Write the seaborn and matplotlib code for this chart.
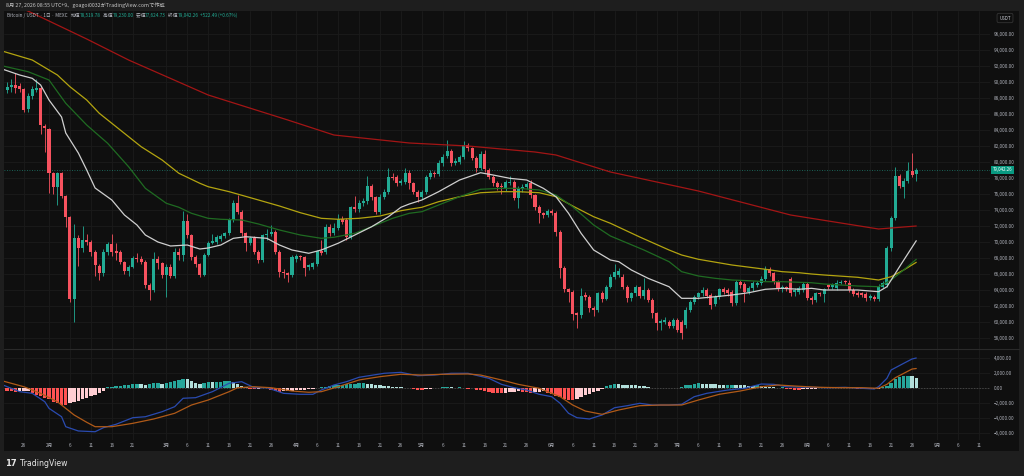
import numpy as np
import pandas as pd
import matplotlib
matplotlib.use("Agg")
import matplotlib.pyplot as plt
import matplotlib.dates as mdates
from matplotlib.patches import Rectangle
from matplotlib.lines import Line2D
from matplotlib.offsetbox import TextArea, HPacker, AnchoredOffsetbox
import seaborn as sns

# BTC/USDT daily candles, first candle 2026-01-22
start = "2026-01-22"

opens = [
    89000, 89330, 89620, 89500, 89080, 86580, 88250, 89000, 89200, 84540,
    84125, 78670, 76920, 78670, 75750, 73170, 62920, 70460, 69210, 70250,
    70040, 68790, 67000, 66165, 68790, 69750, 68870, 68790, 67460, 66420,
    66920, 67960, 67900, 67540, 64620, 64000, 67870, 67330, 65870, 66920,
    65750, 68790, 68375, 72625, 70875, 68170, 67250, 65875, 68375, 69915,
    70040, 70330, 70750, 71080, 72750, 74830, 73790, 71080, 69920, 70460,
    68790, 67750, 70875, 71000, 71290, 68790, 66290, 66080, 65875, 67900,
    68250, 68080, 66830, 66920, 67250, 68920, 68790, 71920, 71080, 71710,
    72830, 72700, 70670, 74330, 74080, 74830, 75120, 77000, 75580, 73790,
    75670, 76290, 78080, 78170, 77330, 77540, 78580, 77330, 76290, 75670,
    76290, 78170, 78670, 78500, 79830, 80750, 81420, 79920, 80040, 80580,
    82125, 81710, 80460, 79210, 81000, 79000, 78170, 77420, 77000, 76710,
    77330, 77540, 75460, 76580, 76830, 77330, 75875, 74420, 73580, 73375,
    73875, 73670, 71290, 66710, 64080, 63790, 61170, 60875, 63375, 63170,
    61710, 61500, 63580, 62900, 64420, 65670, 65900, 65670, 64420, 62960,
    63580, 64330, 63250, 64000, 62750, 61080, 59920, 60040, 60040, 59500,
    60250, 60040, 59620, 61500, 62540, 63170, 63580, 64000, 63370, 62250,
    63170, 64080, 64000, 63790, 62330, 65040, 64750, 63790, 64200, 64620,
    64830, 65330, 66580, 66080, 65040, 64080, 64330, 65330, 63790, 63790,
    64000, 64750, 62960, 62750, 63580, 63500, 64620, 64330, 64200, 64920,
    65040, 64920, 64000, 63670, 63580, 63500, 62960, 63170, 62870, 64420,
    64620, 69210, 72960, 78250, 76920, 77670, 78920, 78519.78,
]
highs = [
    90000, 90400, 91080, 89900, 89300, 88600, 89500, 90330, 89500, 84700,
    84300, 78800, 78800, 78800, 75900, 73300, 72300, 70900, 72000, 71000,
    70300, 69000, 67300, 69100, 70000, 71000, 69900, 69000, 67600, 67100,
    68200, 68600, 68200, 67700, 64900, 68800, 68300, 67500, 67200, 67200,
    69300, 69200, 73900, 73500, 71000, 68400, 67400, 68600, 70100, 71000,
    70900, 71000, 71300, 73000, 75200, 75870, 74000, 71300, 70700, 70700,
    69000, 71000, 71600, 72100, 71500, 69000, 66600, 66290, 68400, 68500,
    68400, 68200, 67300, 67500, 69000, 70200, 72200, 72300, 72400, 73500,
    73200, 73000, 74500, 75800, 75200, 75500, 78300, 77300, 75800, 76000,
    76600, 79300, 78600, 78400, 77900, 79200, 79000, 77500, 76500, 76500,
    78400, 79000, 78900, 80200, 81000, 82750, 81600, 80500, 80900, 82600,
    82400, 81900, 80700, 81400, 81500, 79200, 78400, 77600, 77400, 77800,
    78300, 77700, 77000, 77200, 77500, 77700, 76000, 74600, 73800, 74100,
    74100, 73900, 71500, 67000, 64300, 64000, 61300, 64200, 63700, 63400,
    62000, 63800, 63900, 64600, 66000, 67300, 66700, 66000, 64600, 63800,
    64600, 64500, 65500, 64200, 63000, 61300, 60400, 60600, 60300, 60500,
    60500, 60300, 61900, 62800, 63400, 63800, 64400, 64300, 63600, 63400,
    64300, 64400, 64200, 64000, 65300, 65300, 65000, 64500, 65100, 65100,
    65700, 67000, 66900, 66300, 65300, 64600, 64500, 65600, 64300, 64500,
    65000, 65000, 63200, 63800, 63800, 64300, 64800, 64900, 65200, 65300,
    65300, 65200, 64200, 63900, 63800, 63700, 63500, 63400, 64700, 65100,
    69500, 73200, 79400, 78500, 78000, 80000, 81080, 79230.00,
]
lows = [
    88600, 88700, 88580, 88800, 86300, 86300, 87900, 88700, 83500, 81300,
    76100, 76000, 74600, 75500, 71900, 62500, 60050, 67000, 68800, 69600,
    68300, 65800, 65300, 65800, 68400, 68200, 67800, 67200, 66000, 65700,
    66700, 67500, 67200, 64300, 62800, 63800, 66600, 65500, 63100, 65500,
    65500, 67800, 67600, 70500, 67700, 66900, 65600, 65700, 68200, 69700,
    69800, 70100, 70500, 70900, 72500, 73500, 70800, 68900, 69600, 68500,
    67400, 67500, 70300, 70700, 68500, 65600, 65500, 65000, 65600, 67500,
    67800, 65800, 66500, 66600, 67000, 68400, 68500, 70800, 70900, 71500,
    72200, 70300, 70400, 73800, 73800, 74500, 74800, 75300, 73500, 73500,
    75400, 76000, 77700, 77000, 77100, 77300, 76600, 76000, 75000, 75400,
    76000, 77900, 78100, 78300, 79500, 80500, 79500, 79600, 79800, 80400,
    81400, 80200, 78800, 79000, 78800, 77900, 77000, 76500, 76000, 76400,
    77100, 75200, 74200, 76300, 76600, 75500, 74000, 72400, 73000, 73100,
    73400, 70700, 65500, 63700, 62500, 60300, 59200, 60500, 62800, 61300,
    60800, 61300, 62500, 62700, 64200, 65400, 65600, 64100, 62500, 62600,
    63300, 63000, 62900, 62500, 60500, 59000, 59000, 59700, 59200, 59200,
    58800, 57900, 59300, 61200, 62300, 62900, 63300, 63000, 61600, 62000,
    62900, 63500, 63300, 62000, 62100, 64300, 62500, 63500, 63900, 64400,
    64600, 65100, 65800, 64800, 63900, 63800, 63900, 63200, 63300, 63500,
    63800, 62700, 62300, 62500, 63200, 62500, 64100, 64100, 64000, 64700,
    64800, 63700, 63200, 63100, 63100, 62600, 62700, 62600, 62600, 64200,
    64400, 68900, 72800, 76800, 75500, 77400, 78100, 77624.73,
]
closes = [
    89400, 89620, 89200, 89080, 86500, 88250, 89080, 89200, 84625, 84200,
    78670, 76920, 78670, 75750, 73170, 62830, 70460, 69210, 70250, 70040,
    68790, 67125, 66165, 68790, 69750, 68790, 68660, 67460, 66420, 66920,
    67960, 67900, 67540, 64620, 64000, 67870, 67330, 65870, 66920, 65750,
    68790, 68375, 72625, 70875, 68170, 67250, 65875, 68375, 69915, 70125,
    70580, 70750, 71080, 72750, 74830, 73790, 71080, 69830, 70460, 68790,
    67750, 70875, 71000, 71290, 68790, 66290, 66080, 65875, 68170, 68250,
    68080, 66710, 67120, 67330, 68920, 68670, 71920, 71080, 71710, 72830,
    72540, 70670, 74330, 74080, 74830, 75120, 77000, 75670, 73790, 75670,
    76290, 78080, 78000, 77330, 77620, 78580, 77330, 76290, 75670, 76290,
    78170, 78670, 78500, 79830, 80670, 81420, 79920, 80170, 80580, 82125,
    81710, 80460, 79210, 81000, 79080, 78170, 77330, 76920, 76830, 77540,
    77540, 75460, 76710, 76920, 77250, 75875, 74420, 73580, 73375, 73875,
    73670, 71290, 66710, 64080, 63790, 61000, 60875, 63290, 63170, 61710,
    61500, 63580, 62900, 64420, 65670, 66290, 66420, 64420, 62960, 63580,
    64330, 63250, 64000, 62750, 61080, 59830, 60170, 60250, 59500, 60250,
    59000, 58580, 61500, 62540, 63170, 63580, 64000, 63250, 62120, 63170,
    64080, 63790, 63580, 62330, 65040, 64620, 63790, 64200, 64830, 64830,
    65330, 66580, 66080, 65040, 64200, 64330, 64200, 63670, 64000, 64200,
    64750, 62960, 62750, 63580, 63500, 64080, 64330, 64620, 64920, 65040,
    65000, 64000, 63500, 63370, 63370, 62960, 63250, 62870, 64420, 64830,
    69210, 72960, 78250, 77000, 77670, 78920, 78380, 79042.26,
]

# moving averages (day offset from first candle, value)
ema20_days = [-1, 3, 6, 8, 10, 13, 14, 17, 19, 21, 25, 28, 31, 33, 36, 39, 43, 46, 48, 51,
              54, 57, 62, 65, 68, 72, 75, 79, 83, 87, 91, 94, 96, 99, 103, 108, 113, 116, 120, 124,
              128, 131, 134, 137, 140, 144, 146, 149, 153, 158, 161, 165, 169, 173, 177, 181, 185, 189, 192, 195,
              203, 208, 210, 213, 217]
ema20 = [91590, 90875, 90460, 89625, 87750, 85625, 83625, 81125, 79000, 76750, 75250, 73375, 72125, 70875, 70000,
         69500, 69625, 69125, 69250, 69625, 70460, 70660, 70460, 69625, 69000, 68590, 69000, 69840, 70875, 71910,
         73160, 74340, 74750, 75250, 76290, 77750, 78660, 78375, 77960, 77750, 76710, 75660, 73590, 71090, 69000,
         67750, 67540, 66500, 65460, 64410, 62960, 62960, 63160, 63375, 63660, 64090, 64210, 64090, 64210, 64000,
         64000, 63790, 64410, 66910, 70160]

ema50_days = [-1, 5, 10, 14, 19, 24, 29, 33, 38, 41, 44, 48, 51, 56, 60, 65, 70, 75, 78, 83,
              87, 92, 96, 99, 103, 108, 113, 118, 122, 127, 131, 135, 140, 144, 152, 158, 161, 165, 169, 173,
              177, 181, 185, 192, 195, 203, 208, 211, 214, 217]
ema50 = [92000, 91290, 90250, 87340, 84625, 82340, 79410, 76710, 74840, 74340, 73590, 72960, 72840, 72750, 72250,
         71500, 70875, 70460, 70590, 71090, 71910, 72960, 73590, 73790, 74625, 75660, 76590, 76710, 76710, 76500,
         75875, 74410, 72125, 70750, 69000, 67540, 66290, 65750, 65460, 65250, 65160, 65040, 65040, 64910, 64750,
         64500, 64410, 65250, 66500, 67840]

sma50_days = [-2, 6, 12, 15, 19, 22, 27, 32, 37, 41, 46, 48, 53, 60, 65, 70, 75, 79, 84, 89,
              94, 96, 99, 103, 108, 113, 118, 122, 127, 131, 135, 140, 144, 151, 158, 161, 165, 173, 181, 185,
              189, 192, 195, 203, 208, 211, 214, 217]
sma50 = [94000, 92750, 90875, 89410, 87750, 86090, 84000, 81910, 80250, 78590, 77340, 76910, 76290, 75250, 74500,
         73660, 72960, 72840, 72960, 73250, 73910, 74090, 74340, 75040, 75660, 76160, 76290, 76290, 76160, 75660,
         74500, 73160, 72340, 70625, 69000, 68375, 67840, 67125, 66590, 66290, 66160, 66000, 65875, 65590, 65250,
         65660, 66500, 67460]

sma200_days = [-2, 6, 19, 29, 48, 67, 78, 96, 110, 126, 131, 144, 165, 187, 208, 217]
sma200 = [100500, 98625, 95375, 92750, 88375, 85250, 83375, 82375, 82000, 81250, 80875, 78750, 76375, 73375,
          71625, 72000]

# MACD pane
macd_days = [-1, 3, 6, 9, 10, 13, 14, 17, 21, 23, 26, 30, 33, 37, 40, 42, 45, 49, 53, 56,
             59, 62, 66, 70, 73, 75, 78, 81, 84, 90, 94, 98, 102, 106, 110, 115, 118, 121, 124, 127,
             130, 132, 134, 136, 139, 142, 145, 148, 151, 154, 158, 161, 164, 167, 172, 176, 180, 183, 186, 192,
             196, 200, 204, 207, 208, 210, 211, 214, 216, 217]
macd = [400, -490, -710, -1830, -2710, -3830, -5160, -5730, -5830, -5290, -4840, -3960, -3830, -3160, -2490,
        -1370, -1290, -490, 630, 840, 40, 40, -710, -840, -840, -270, 400, 840, 1430, 1960,
        2090, 1640, 1730, 1960, 1960, 1290, 490, 40, -270, -840, -1160, -2040, -3370, -3960, -4130,
        -3600, -2630, -2360, -2040, -2270, -2270, -2170, -1160, -710, -270, -40, 530, 490, 170, 90,
        40, 90, -40, -130, 170, 1290, 2400, 3290, 3870, 4000]

signal_days = [-1, 4, 8, 12, 16, 19, 21, 25, 30, 35, 40, 44, 48, 53, 55, 59, 63, 68, 72, 75,
               79, 84, 89, 94, 99, 104, 110, 113, 118, 122, 127, 132, 135, 138, 142, 146, 151, 156, 161, 165,
               170, 175, 180, 184, 189, 194, 199, 204, 208, 210, 212, 216, 217]
signal = [930, 170, -710, -1830, -3600, -4570, -5160, -5160, -4710, -4130, -3370, -2270, -1600, -490, 40,
          170, 40, -400, -570, -490, 170, 1070, 1510, 1830, 1730, 1830, 1870, 1730, 1070, 490,
          -40, -1160, -2270, -3070, -3510, -2930, -2360, -2270, -2270, -1600, -840, -400, 170, 400, 230,
          90, 40, 40, -40, 490, 1370, 2530, 2600]

hist = [
    -400, -450, -500, -450, -400, -380, -700, -900, -1100, -1300,
    -1500, -1800, -2000, -2200, -2300, -2050, -1850, -1700, -1500, -1300,
    -1100, -900, -650, -400, 100, 150, 250, 300, 400, 450,
    500, 550, 500, 450, 550, 620, 650, 600, 700, 800,
    950, 1100, 1200, 1150, 900, 700, 550, 700, 750, 750,
    800, 850, 900, 1000, 800, 550, 300, 100, -100, -150,
    -100, -50, 20, -250, -400, -500, -450, -400, -350, -300,
    -250, -200, -150, -100, -50, 100, 200, 300, 350, 400,
    450, 500, 550, 600, 650, 700, 600, 500, 400, 350,
    300, 250, 200, 150, 100, 50, 20, -100, -200, -250,
    -150, -100, -50, 50, 100, 150, 80, 50, 80, 60,
    -100, -50, -200, -300, -400, -500, -600, -650, -700, -700,
    -550, -500, -450, -500, -550, -600, -550, -500, -450, -600,
    -800, -1000, -1200, -1400, -1550, -1600, -1400, -1150, -950, -750,
    -550, -350, -150, 300, 450, 550, 500, 450, 450, 400,
    350, 300, 250, 150, 50, -30, -50, -30, -20, 10,
    50, 200, 350, 450, 550, 620, 600, 550, 500, 500,
    450, 400, 420, 450, 400, 350, 350, 300, 250, 350,
    250, 200, 150, 100, 50, 80, -100, -150, -200, -220,
    -180, -150, -100, -80, -50, -30, 20, 30, 40, 30,
    10, -10, -60, -100, -130, -150, -170, -150, -100, 100,
    300, 700, 1200, 1500, 1600, 1650, 1600, 1400,
]

price_ticks = list(range(58000, 96001, 2000))
macd_ticks = [-6000, -4000, -2000, 0, 2000, 4000]

tick_dates = ["2026-01-26", "2026-02-01", "2026-02-06", "2026-02-11", "2026-02-16", "2026-02-21",
              "2026-03-01", "2026-03-06", "2026-03-11", "2026-03-16", "2026-03-21", "2026-03-26",
              "2026-04-01", "2026-04-06", "2026-04-11", "2026-04-16", "2026-04-21", "2026-04-26",
              "2026-05-01", "2026-05-06", "2026-05-11", "2026-05-16", "2026-05-21", "2026-05-26",
              "2026-06-01", "2026-06-06", "2026-06-11", "2026-06-16", "2026-06-21", "2026-06-26",
              "2026-07-01", "2026-07-06", "2026-07-11", "2026-07-16", "2026-07-21", "2026-07-26",
              "2026-08-01", "2026-08-06", "2026-08-11", "2026-08-16", "2026-08-21", "2026-08-26",
              "2026-09-01", "2026-09-06", "2026-09-11"]
tick_labels = ["26", "2月", "6", "11", "16", "21",
               "3月", "6", "11", "16", "21", "26",
               "4月", "6", "11", "16", "21", "26",
               "5月", "6", "11", "16", "21", "26",
               "6月", "6", "11", "16", "21", "26",
               "7月", "6", "11", "16", "21", "26",
               "8月", "6", "11", "16", "21", "26",
               "9月", "6", "11"]

# colours
OUTER = "#1e1e1e"
PANEL = "#0f0f0f"
GRID = "#1b1b1b"
TXT = "#b2b5be"
UP = "#22ab94"
DOWN = "#f7525f"

sns.set_theme(style="dark")
plt.rcParams["font.family"] = ["Noto Sans CJK JP", "DejaVu Sans"]
plt.rcParams["axes.unicode_minus"] = False

W, H = 1024, 476
fig = plt.figure(figsize=(W / 100, H / 100), dpi=100)
fig.patch.set_facecolor(OUTER)


def box(l, t, r, b):
    return [l / W, 1 - b / H, (r - l) / W, (b - t) / H]


fig.add_artist(Rectangle((4 / W, 1 - 451 / H), 1015 / W, 440 / H,
                         transform=fig.transFigure, facecolor=PANEL, edgecolor="none", zorder=0))

ax = fig.add_axes(box(4, 11, 990, 349))
mx = fig.add_axes(box(4, 349, 990, 440), sharex=ax)

dates = pd.date_range(start, periods=len(closes), freq="D")
xd = mdates.date2num(dates)
x0 = xd[0]

o, h, l, c = (np.array(v, dtype=float) for v in (opens, highs, lows, closes))
cols = np.where(c >= o, UP, DOWN)

# candles
ax.vlines(xd, l, h, colors=cols, linewidth=0.6, zorder=3)
ax.bar(xd, np.maximum(np.abs(c - o), 80), bottom=np.minimum(o, c), width=0.72,
       color=cols, linewidth=0, zorder=4)

# moving averages
for days, vals, colr in [(sma200_days, sma200, "#a31515"),
                         (sma50_days, sma50, "#b3a40f"),
                         (ema50_days, ema50, "#1f6b22"),
                         (ema20_days, ema20, "#cfcfcf")]:
    sns.lineplot(x=x0 + np.array(days), y=vals, ax=ax, color=colr, linewidth=0.9,
                 errorbar=None, zorder=5)

# last price line + label
ax.axhline(c[-1], color=UP, linewidth=0.6, linestyle=(0, (1, 2)), alpha=0.7, zorder=2)
ax.text(1.003, c[-1], f"{c[-1]:,.2f}", transform=ax.get_yaxis_transform(), ha="left", va="center",
        fontsize=3.2, color="white", clip_on=False,
        bbox=dict(boxstyle="square,pad=0.35", facecolor="#089981", edgecolor="none"))

# MACD histogram colours (TradingView rule)
hv = np.array(hist, dtype=float)
prev = np.concatenate([[hv[0] + 1], hv[:-1]])
hcols = np.where(hv >= 0, np.where(hv > prev, "#26a69a", "#b2dfdb"),
                 np.where(hv < prev, "#ff5252", "#ffcdd2"))
mx.axhline(0, color="#555555", linewidth=0.5, linestyle=(0, (2, 2)), zorder=1)
mx.bar(xd, hv, width=0.8, color=hcols, linewidth=0, zorder=2)
sns.lineplot(x=x0 + np.array(macd_days), y=macd, ax=mx, color="#2a4bb0", linewidth=0.9,
             errorbar=None, zorder=3)
sns.lineplot(x=x0 + np.array(signal_days), y=signal, ax=mx, color="#b05a18", linewidth=0.9,
             errorbar=None, zorder=3)

# axes styling
for a in (ax, mx):
    a.set_facecolor(PANEL)
    for s in a.spines.values():
        s.set_visible(False)
    a.grid(True, color=GRID, linewidth=0.6)
    a.set_axisbelow(True)
    a.yaxis.tick_right()
    a.tick_params(axis="both", length=0, labelsize=3.3, labelcolor=TXT, pad=3)
    a.set_xlabel("")
    a.set_ylabel("")

ax.set_xlim(x0 - 0.74, x0 + 234.6)
ax.set_ylim(56625, 98875)
mx.set_ylim(-6933, 5200)

ax.set_yticks(price_ticks)
ax.set_yticklabels([f"{v:,.2f}" for v in price_ticks])
mx.set_yticks(macd_ticks)
mx.set_yticklabels([f"{v:,.2f}".replace("-", "\u2212") for v in macd_ticks])

mx.set_xticks(mdates.date2num(pd.to_datetime(tick_dates)))
mx.set_xticklabels(tick_labels)
mx.tick_params(axis="x", pad=2)
ax.tick_params(axis="x", labelbottom=False)

# pane separator
fig.add_artist(Line2D([4 / W, 1019 / W], [1 - 349 / H, 1 - 349 / H], transform=fig.transFigure,
                      color="#2a2a2a", linewidth=0.8))

# header texts
fig.text(6 / W, 1 - 5.5 / H, "8月 27, 2026 08:55 UTC+9、goagoi0032がTradingView.comで作成",
         fontsize=3.8, color="#c8c8c8", va="center")

teal = "#22ab94"
parts = [("Bitcoin / USDT · 1日 · MEXC   ", TXT), ("始値", TXT), (f"{o[-1]:,.2f}", teal),
         ("  高値", TXT), (f"{h[-1]:,.2f}", teal), ("  安値", TXT), (f"{l[-1]:,.2f}", teal),
         ("  終値", TXT), (f"{c[-1]:,.2f}", teal), ("  +522.49 (+0.67%)", teal)]
pack = HPacker(children=[TextArea(s, textprops=dict(color=col, fontsize=3.4)) for s, col in parts],
               align="baseline", pad=0, sep=0)
fig.add_artist(AnchoredOffsetbox(loc="center left", child=pack, pad=0, borderpad=0, frameon=False,
                                 bbox_to_anchor=(7 / W, 1 - 15.5 / H), bbox_transform=fig.transFigure))

fig.text(1005 / W, 1 - 18 / H, "USDT", ha="center", va="center", fontsize=3.2, color="#d1d4dc",
         bbox=dict(boxstyle="round,pad=0.5,rounding_size=0.4", facecolor=PANEL, edgecolor="#3a3a3a",
                   linewidth=0.5))

# footer logo
fig.text(5 / W, 1 - 463.5 / H, "17", fontsize=6, fontweight="bold", color="#e6e6e6", va="center",
         family="DejaVu Sans")
fig.text(20 / W, 1 - 463.5 / H, "TradingView", fontsize=5.6, color="#e6e6e6", va="center",
         family="DejaVu Sans")

fig.savefig("out.png", dpi=100, facecolor=fig.get_facecolor())
